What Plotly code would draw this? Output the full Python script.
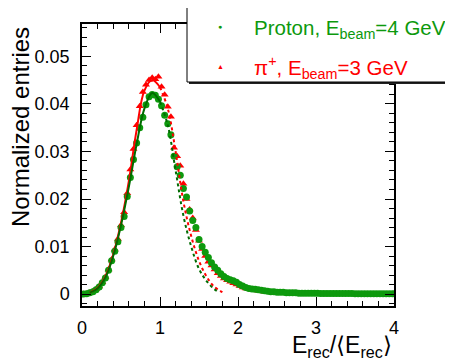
import plotly.graph_objects as go

# ---------------- data ----------------
bin_centers = [round(0.02 + 0.04 * i, 2) for i in range(100)]

proton_y = [
    0.0000, 0.0001, 0.0003, 0.0005, 0.0009, 0.0015, 0.0024, 0.0034, 0.0050, 0.0070,
    0.0090, 0.0110, 0.0140, 0.0163, 0.0205, 0.0245, 0.0283, 0.0318, 0.0350, 0.0372,
    0.0398, 0.0415, 0.0420, 0.0418, 0.0410, 0.0396, 0.0376, 0.0358, 0.0335, 0.0290,
    0.0268, 0.0250, 0.0222, 0.0204, 0.0175, 0.0155, 0.0140, 0.0115, 0.0100, 0.0088,
    0.0077, 0.0066, 0.0057, 0.0050, 0.0043, 0.0037, 0.0033, 0.0030, 0.0028, 0.0025,
    0.0020, 0.0017, 0.0014, 0.0012, 0.0011, 0.0010, 0.0009, 0.0008, 0.0007, 0.0006,
    0.0005, 0.0005, 0.0004, 0.0004, 0.0004, 0.0003, 0.0003, 0.0003, 0.0003, 0.0002,
    0.0002, 0.0002, 0.0002, 0.0002, 0.0002, 0.0002, 0.00015, 0.00015, 0.00015, 0.00015,
    0.00015, 0.00015, 0.00015, 0.00015, 0.00015, 0.00015, 0.00015, 0.0001, 0.0001, 0.0001,
    0.0001, 0.0001, 0.0001, 0.0001, 0.0001, 0.0001, 0.0001, 0.0001, 0.0001, 0.0001,
]

pion_y = [
    0.0000, 0.0001, 0.0003, 0.0006, 0.0010, 0.0016, 0.0025, 0.0036, 0.0052, 0.0073,
    0.0094, 0.0116, 0.0145, 0.0172, 0.0212, 0.0262, 0.0305, 0.0355, 0.0395, 0.0425,
    0.0440, 0.0450, 0.0455, 0.0452, 0.0457, 0.0436, 0.0419, 0.0394, 0.0373, 0.0308,
    0.0290, 0.0270, 0.0232, 0.0200, 0.0178, 0.0160, 0.0135, 0.0112, 0.0095, 0.0080,
    0.0068, 0.0060, 0.0052, 0.0044, 0.0038, 0.0033, 0.0029, 0.0026, 0.0023, 0.0020,
    0.0017, 0.0014, 0.0012, 0.0010, 0.0009, 0.0008, 0.0007, 0.0006, 0.0005, 0.0004,
    0.0004, 0.0003, 0.0003, 0.0003, 0.0002, 0.0002, 0.0002, 0.0002, 0.0001, 0.0001,
    0.0001, 0.0001, 0.0001, 0.0001, 0.0001,
]
pion_x = bin_centers[:len(pion_y)]

# Fit curves (solid up to fit_split, dotted beyond)
fit_x = [0.1, 0.2, 0.3, 0.4, 0.5, 0.6, 0.7, 0.8, 0.9, 1.0,
         1.1, 1.2, 1.3, 1.4, 1.5, 1.6, 1.7, 1.75]
proton_fit = [0.0003, 0.0012, 0.0035, 0.0080, 0.0145, 0.0225, 0.0315, 0.0390, 0.0423, 0.0405,
              0.0355, 0.0260, 0.0165, 0.0100, 0.0053, 0.0027, 0.0010, 0.0005]
pion_fit_x = [0.1, 0.2, 0.3, 0.4, 0.5, 0.6, 0.7, 0.8, 0.9, 1.0,
              1.1, 1.2, 1.3, 1.4, 1.5, 1.6, 1.7, 1.8]
pion_fit = [0.0003, 0.0013, 0.0037, 0.0083, 0.0150, 0.0237, 0.0345, 0.0428, 0.0450, 0.0435,
            0.0390, 0.0300, 0.0195, 0.0122, 0.0070, 0.0036, 0.0015, 0.0004]
fit_split = 1.0

x_ticks = [0, 1, 2, 3, 4]
y_ticks = [0, 0.01, 0.02, 0.03, 0.04, 0.05]
y_tick_text = ["0", "0.01", "0.02", "0.03", "0.04", "0.05"]

GREEN = "#0d990d"
GREEN_LINE = "#006b00"
RED = "#ff0000"
FONT = "Liberation Sans, Arial, sans-serif"

fig = go.Figure()

fig.add_trace(go.Scatter(x=pion_x, y=pion_y, mode="markers",
                         marker=dict(symbol="triangle-up", size=7, color=RED),
                         showlegend=False))
fig.add_trace(go.Scatter(x=bin_centers, y=proton_y, mode="markers",
                         marker=dict(symbol="circle", size=7, color=GREEN),
                         showlegend=False))


def split(xs, ys, lo=True):
    px, py = [], []
    for a, b in zip(xs, ys):
        if (lo and a <= fit_split) or ((not lo) and a >= fit_split):
            px.append(a)
            py.append(b)
    return px, py


for xs, ys, col in [(pion_fit_x, pion_fit, RED), (fit_x, proton_fit, GREEN_LINE)]:
    sx, sy = split(xs, ys, True)
    fig.add_trace(go.Scatter(x=sx, y=sy, mode="lines", line=dict(color=col, width=2, shape="spline"),
                             showlegend=False))
    dx, dy = split(xs, ys, False)
    fig.add_trace(go.Scatter(x=dx, y=dy, mode="lines",
                             line=dict(color=col, width=2, dash="dot", shape="spline"),
                             showlegend=False))

# page body has an 8px margin: figure origin is at (8, 8) in the window
OFF = 8
W, H = 453 - OFF, 364 - OFF
L, R, T, B = 82 - OFF, 394 - OFF, 24 - OFF, 306 - OFF
pw, ph = R - L, B - T


def px2x(p):  # window pixel -> paper x
    return (p - OFF - L) / pw


def py2y(p):  # window pixel -> paper y
    return (B - (p - OFF)) / ph


axis_common = dict(showgrid=False, zeroline=False, showline=True, linecolor="black", linewidth=1.5,
                   mirror="allticks", ticks="inside", ticklen=9, tickwidth=1.2, tickcolor="black",
                   tickfont=dict(family=FONT, size=18, color="black"))

fig.update_xaxes(range=[0, 4], tickvals=x_ticks, ticktext=[str(v) for v in x_ticks],
                 minor=dict(ticks="inside", ticklen=5, dtick=0.2, tickcolor="black", tickwidth=1),
                 ticklabelstandoff=5, **axis_common)
fig.update_yaxes(range=[-0.0025, 0.0568], tickvals=y_ticks, ticktext=y_tick_text,
                 minor=dict(ticks="inside", ticklen=5, dtick=0.002, tickcolor="black", tickwidth=1),
                 ticklabelstandoff=7, **axis_common)

# legend box with shadow
lx0, lx1, ly0, ly1 = 187, 451, 82, 7
fig.add_shape(type="rect", xref="paper", yref="paper",
              x0=px2x(lx0 + 2), x1=px2x(lx1 + 2), y0=py2y(ly0 + 2), y1=py2y(ly1 + 2),
              fillcolor="#222222", line=dict(width=0), layer="above")
fig.add_shape(type="rect", xref="paper", yref="paper",
              x0=px2x(lx0), x1=px2x(lx1), y0=py2y(ly0), y1=py2y(ly1),
              fillcolor="white", line=dict(color="black", width=1), layer="above")

anns = [
    dict(x=px2x(220), y=py2y(27), text="●", font=dict(size=7, color=GREEN, family=FONT),
         xanchor="center", yanchor="middle"),
    dict(x=px2x(220), y=py2y(66), text="▲", font=dict(size=7, color=RED, family=FONT),
         xanchor="center", yanchor="middle"),
    dict(x=px2x(252), y=py2y(29), text="Proton, E<sub>beam</sub>=4 GeV",
         font=dict(size=20.5, color=GREEN, family=FONT), xanchor="left", yanchor="middle"),
    dict(x=px2x(252), y=py2y(67), text="π<sup>+</sup>, E<sub>beam</sub>=3 GeV",
         font=dict(size=20.5, color=RED, family=FONT), xanchor="left", yanchor="middle"),
    dict(x=1.0, y=py2y(346), text="E<sub>rec</sub>/⟨E<sub>rec</sub>⟩",
         font=dict(size=23, color="black", family=FONT), xanchor="right", yanchor="middle"),
    dict(x=px2x(20), y=py2y(127), text="Normalized entries", textangle=-90,
         font=dict(size=24, color="black", family=FONT), xanchor="center", yanchor="middle"),
]
for a in anns:
    a.update(xref="paper", yref="paper", showarrow=False)
    fig.add_annotation(**a)

fig.update_layout(width=W, height=H, margin=dict(l=L, r=W - R, t=T, b=H - B),
                  paper_bgcolor="white", plot_bgcolor="white", showlegend=False)

fig.write_html("out.html")
